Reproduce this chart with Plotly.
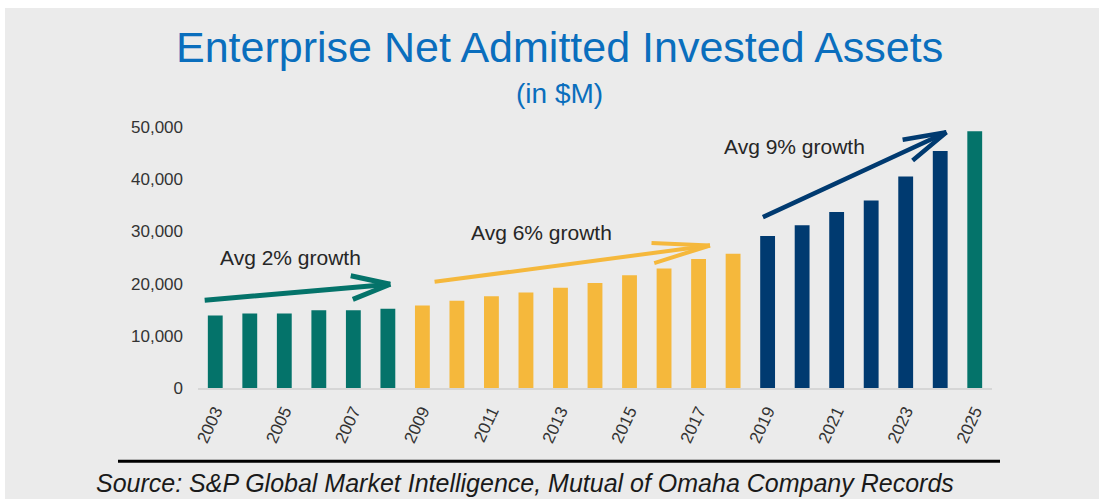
import math
import plotly.graph_objects as go

# ---------------- data ----------------
years = [2003, 2004, 2005, 2006, 2007, 2008, 2009, 2010, 2011, 2012, 2013, 2014,
         2015, 2016, 2017, 2018, 2019, 2020, 2021, 2022, 2023, 2024, 2025]
assets = [13900, 14250, 14250, 14900, 14900, 15200, 15800, 16700, 17600, 18300, 19200, 20100,
          21600, 22900, 24700, 25700, 29100, 31200, 33700, 35900, 40500, 45400, 49200]
periods = ["p1"] * 6 + ["p2"] * 10 + ["p3"] * 6 + ["p4"]
tick_years = [2003, 2005, 2007, 2009, 2011, 2013, 2015, 2017, 2019, 2021, 2023, 2025]
y_ticks = [0, 10000, 20000, 30000, 40000, 50000]

growth_labels = ["Avg 2% growth", "Avg 6% growth", "Avg 9% growth"]

title_text = "Enterprise Net Admitted Invested Assets"
subtitle_text = "(in $M)"
source_text = "Source: S&P Global Market Intelligence, Mutual of Omaha Company Records"

# ---------------- styles ----------------
TEAL = "#04736A"
GOLD = "#F5B83C"
NAVY = "#003A70"
BLUE = "#0A6EBD"
BG = "#EBEBEB"
TXT = "#333333"
FONT = "Liberation Sans, Arial, sans-serif"
period_colors = {"p1": TEAL, "p2": GOLD, "p3": NAVY, "p4": TEAL}

# page offset of the figure (white band at top/left like the reference)
OFF_X, OFF_Y = 5, 8
W, H = 1099 - OFF_X, 499 - OFF_Y
X_RANGE = [2002.5, 2025.5]
Y_RANGE = [0, 50000]
PLOT_W, PLOT_H = 794, 261
SX = PLOT_W / (X_RANGE[1] - X_RANGE[0])   # px per year
SY = PLOT_H / (Y_RANGE[1] - Y_RANGE[0])   # px per unit


def px(x):  # page pixel x -> paper x
    return (x - 198) / 794


def py(y):  # page pixel y -> paper y
    return (387.7 - y) / 261


fig = go.Figure()
fig.add_trace(go.Bar(
    x=years, y=assets,
    marker=dict(color=[period_colors[p] for p in periods], line=dict(width=0)),
    width=0.43,
    hoverinfo="x+y",
))

annotations = []
annotations.append(dict(text=title_text, xref="paper", yref="paper",
                        x=px(559.5), y=py(47), xanchor="center", yanchor="middle",
                        showarrow=False, font=dict(family=FONT, size=43, color=BLUE)))
annotations.append(dict(text=subtitle_text, xref="paper", yref="paper",
                        x=px(559), y=py(93), xanchor="center", yanchor="middle",
                        showarrow=False, font=dict(family=FONT, size=28, color=BLUE)))
annotations.append(dict(text="<i>" + source_text + "</i>", xref="paper", yref="paper",
                        x=px(525), y=py(483), xanchor="center", yanchor="middle",
                        showarrow=False, font=dict(family=FONT, size=25, color="#1A1A1A")))

# growth arrows (tip x,y ; tail ax, ay) in data coordinates, chevron head
arrows = [
    dict(x=2008.07, y=19870, ax=2002.65, ay=16800, color=TEAL, w=5, head=42, ang=17),
    dict(x=2017.33, y=27300, ax=2009.31, ay=20300, color=GOLD, w=4, head=60, ang=10),
    dict(x=2024.18, y=49000, ax=2018.82, ay=32600, color=NAVY, w=4.5, head=46, ang=15),
]
for a in arrows:
    common = dict(xref="x", yref="y", axref="x", ayref="y", text="", showarrow=True,
                  arrowhead=0, arrowwidth=a["w"], arrowcolor=a["color"],
                  standoff=0, startstandoff=0)
    # shaft
    annotations.append(dict(x=a["x"], y=a["y"], ax=a["ax"], ay=a["ay"], **common))
    # chevron arms, computed in pixel space
    dxp = (a["x"] - a["ax"]) * SX
    dyp = (a["y"] - a["ay"]) * SY
    back = math.atan2(-dyp, -dxp)
    for s in (1, -1):
        t = back + s * math.radians(a["ang"])
        ex = a["x"] + a["head"] * math.cos(t) / SX
        ey = a["y"] + a["head"] * math.sin(t) / SY
        annotations.append(dict(x=a["x"], y=a["y"], ax=ex, ay=ey, **common))

label_pos = [(2005.17, 25000), (2012.46, 29800), (2019.77, 46300)]
for lbl, (lx, ly) in zip(growth_labels, label_pos):
    annotations.append(dict(text=lbl, x=lx, y=ly, xref="x", yref="y",
                            showarrow=False, xanchor="center", yanchor="middle",
                            font=dict(family=FONT, size=21, color="#262626")))

shapes = [
    dict(type="line", xref="paper", yref="paper", x0=px(118), x1=px(1000),
         y0=py(461), y1=py(461), line=dict(color="black", width=3)),
]

fig.update_layout(
    width=W, height=H,
    margin=dict(l=198 - OFF_X, r=W - (992 - OFF_X), t=round(126.7 - OFF_Y),
                b=H - round(126.7 - OFF_Y) - PLOT_H, pad=0),
    paper_bgcolor=BG, plot_bgcolor=BG,
    showlegend=False,
    font=dict(family=FONT, color=TXT, size=17),
    annotations=annotations,
    shapes=shapes,
    xaxis=dict(type="linear", range=X_RANGE,
               tickvals=tick_years, ticktext=[str(t) for t in tick_years],
               tickangle=-65, showgrid=False, zeroline=False,
               showline=True, linecolor="#D6D6D6", linewidth=1.5,
               ticks="", ticklabelstandoff=5,
               tickfont=dict(size=17, color=TXT, family=FONT)),
    yaxis=dict(range=Y_RANGE, tickvals=y_ticks,
               ticktext=[f"{v:,}" for v in y_ticks],
               showgrid=False, zeroline=False, showline=False, ticks="",
               ticklabelstandoff=14,
               tickfont=dict(size=17, color=TXT, family=FONT)),
)

fig.write_html("out.html",
               post_script=f"document.body.style.margin='{OFF_Y}px 0 0 {OFF_X}px';"
                           "document.body.style.overflow='hidden';")
